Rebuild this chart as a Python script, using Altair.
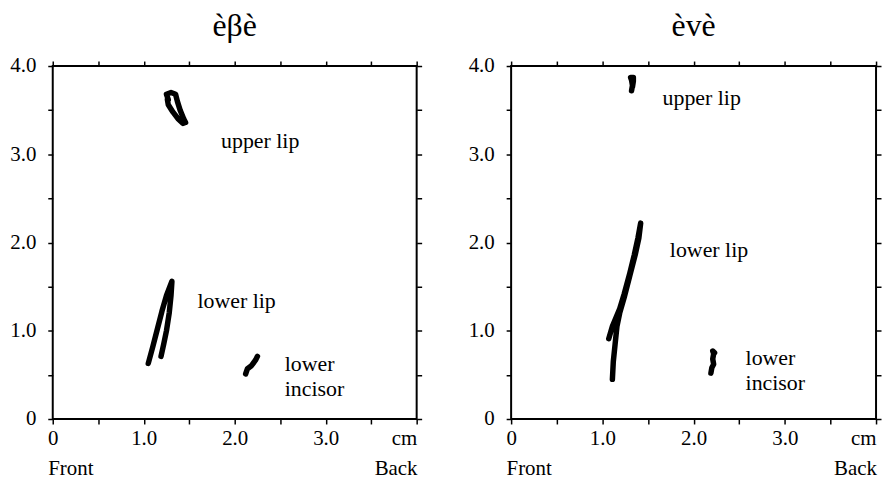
import altair as alt
import pandas as pd

FONT = "Liberation Serif"

# ---- data (cm) ----
titles = ["èβè", "èvè"]

# Left panel (èβè)
l_upper_x = [1.27, 1.25, 1.30, 1.35, 1.37, 1.40, 1.44, 1.46, 1.43, 1.38, 1.32, 1.27, 1.26]
l_upper_y = [3.62, 3.68, 3.70, 3.68, 3.60, 3.50, 3.40, 3.36, 3.35, 3.40, 3.48, 3.56, 3.62]
l_lowlip_x = [1.05, 1.10, 1.15, 1.20, 1.25, 1.31, 1.30, 1.28, 1.25, 1.22, 1.19]
l_lowlip_y = [0.63, 0.82, 1.02, 1.22, 1.40, 1.56, 1.40, 1.20, 1.00, 0.85, 0.71]
l_incisor_x = [2.12, 2.14, 2.18, 2.21, 2.23, 2.25]
l_incisor_y = [0.51, 0.57, 0.60, 0.64, 0.67, 0.71]

# Right panel (èvè)
r_upper_x = [1.32, 1.33, 1.32, 1.31, 1.34, 1.34, 1.33]
r_upper_y = [3.72, 3.78, 3.84, 3.87, 3.87, 3.83, 3.76]
r_lowlip_x = [1.07, 1.11, 1.15, 1.19, 1.24, 1.30, 1.35, 1.39, 1.42, 1.40, 1.36, 1.30, 1.24, 1.19, 1.16, 1.14, 1.12, 1.11]
r_lowlip_y = [0.91, 1.05, 1.15, 1.25, 1.42, 1.65, 1.86, 2.05, 2.22, 2.05, 1.86, 1.62, 1.38, 1.20, 1.05, 0.85, 0.65, 0.45]
r_incisor_x = [2.19, 2.20, 2.22, 2.21, 2.22, 2.21, 2.23]
r_incisor_y = [0.52, 0.58, 0.62, 0.68, 0.74, 0.77, 0.75]

# Annotation texts and anchors (data units)
l_label_text = ["upper lip", "lower lip", "lower", "incisor"]
l_label_x = [1.85, 1.59, 2.55, 2.55]
l_label_y = [3.07, 1.26, 0.54, 0.26]
r_label_text = ["upper lip", "lower lip", "lower", "incisor"]
r_label_x = [1.66, 1.74, 2.57, 2.57]
r_label_y = [3.56, 1.84, 0.61, 0.33]

end_text = ["Front", "Back"]
end_x = [-0.05, 4.01]
end_y = [-0.63, -0.63]

tick_values = [0, 0.5, 1.0, 1.5, 2.0, 2.5, 3.0, 3.5, 4.0]


def build_lines(parts):
    rows = []
    for name, xs, ys in parts:
        for i, (a, b) in enumerate(zip(xs, ys)):
            rows.append({"part": name, "order": i, "x": a, "y": b})
    return pd.DataFrame(rows)


def build_labels(texts, xs, ys):
    return pd.DataFrame({"text": texts, "x": xs, "y": ys})


front_df = build_labels(end_text[:1], end_x[:1], end_y[:1])
back_df = build_labels(end_text[1:], end_x[1:], end_y[1:])

xscale = alt.Scale(domain=[0, 4], nice=False, zero=False)
yscale = alt.Scale(domain=[0, 4], nice=False, zero=False)

label_expr = "datum.value == 0 ? '0' : datum.value == 4 ? 'cm' : (datum.value % 1 == 0 ? format(datum.value, '.1f') : '')"
ylabel_expr = "datum.value == 0 ? '0' : (datum.value % 1 == 0 ? format(datum.value, '.1f') : '')"


def panel(lines_df, labels_df, title, width):
    base_axis = dict(values=tick_values, tickColor="black", tickWidth=1.5, tickSize=5,
                     domain=False, grid=False, title=None, labelFont=FONT, labelFontSize=21,
                     labelColor="black", labelFlush=False)
    traj = alt.Chart(lines_df).mark_line(color="black", strokeWidth=5.5, strokeCap="round",
                                         strokeJoin="round").encode(
        x=alt.X("x:Q", scale=xscale,
                axis=alt.Axis(orient="bottom", labelExpr=label_expr, labelPadding=4,
                              labelAlign={"condition": {"test": "datum.value == 4", "value": "right"},
                                          "value": "center"},
                              **base_axis)),
        y=alt.Y("y:Q", scale=yscale,
                axis=alt.Axis(orient="left", labelExpr=ylabel_expr, labelPadding=12, **base_axis)),
        detail="part:N",
        order="order:Q",
    )
    txt = alt.Chart(labels_df).mark_text(font=FONT, fontSize=22, align="left",
                                         baseline="alphabetic", color="black").encode(
        x=alt.X("x:Q", scale=xscale,
                axis=alt.Axis(orient="top", labels=False, **base_axis)),
        y=alt.Y("y:Q", scale=yscale,
                axis=alt.Axis(orient="right", labels=False, **base_axis)),
        text="text:N",
    )
    front = alt.Chart(front_df).mark_text(font=FONT, fontSize=21, baseline="alphabetic",
                                          align="left", color="black").encode(
        x=alt.X("x:Q", scale=xscale, axis=None),
        y=alt.Y("y:Q", scale=yscale, axis=None),
        text="text:N",
    )
    back = alt.Chart(back_df).mark_text(font=FONT, fontSize=21, baseline="alphabetic",
                                        align="right", color="black").encode(
        x=alt.X("x:Q", scale=xscale, axis=None),
        y=alt.Y("y:Q", scale=yscale, axis=None),
        text="text:N",
    )
    return alt.layer(traj, txt, front, back).resolve_axis(x="independent", y="independent").properties(
        width=width, height=355,
        title=alt.TitleParams(title, font=FONT, fontSize=32, fontWeight="normal",
                              color="black", offset=12, anchor="middle"),
    )


left = panel(
    build_lines([("upper lip", l_upper_x, l_upper_y),
                 ("lower lip", l_lowlip_x, l_lowlip_y),
                 ("lower incisor", l_incisor_x, l_incisor_y)]),
    build_labels(l_label_text, l_label_x, l_label_y),
    titles[0], 366,
)
right = panel(
    build_lines([("upper lip", r_upper_x, r_upper_y),
                 ("lower lip", r_lowlip_x, r_lowlip_y),
                 ("lower incisor", r_incisor_x, r_incisor_y)]),
    build_labels(r_label_text, r_label_x, r_label_y),
    titles[1], 367,
)

chart = alt.hconcat(left, right, spacing=43).properties(
    padding={"left": 0, "top": 0, "right": 0, "bottom": 0},
    background="white",
).configure_view(stroke="black", strokeWidth=2)

chart.save("out.html", embed_options={"renderer": "svg", "actions": False})
